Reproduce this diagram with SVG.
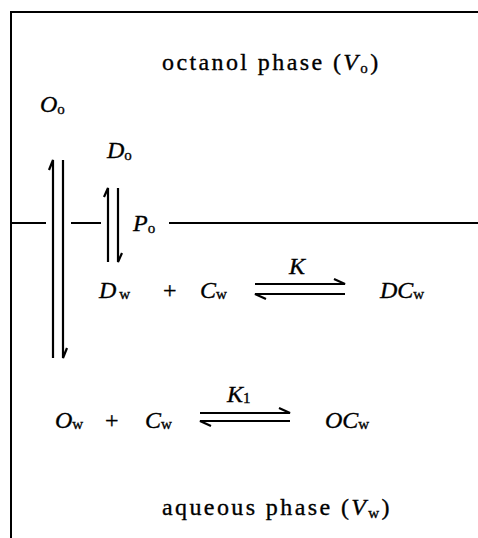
<svg xmlns="http://www.w3.org/2000/svg" width="478" height="538" viewBox="0 0 478 538">
<style>
text{font-family:"Liberation Serif","Times New Roman",serif;font-size:24px;fill:#000;stroke:#000;stroke-width:0.35}
.i{font-style:italic}
.s{font-size:15px;font-style:normal}
.lbl{letter-spacing:2.4px}
.ln{stroke:#000;stroke-width:2;fill:none;stroke-linecap:square}
.ar{stroke:#000;stroke-width:2.2;fill:none}
</style>
<rect width="478" height="538" fill="#fff"/>
<g id="frame">
<path class="ln" d="M11,12 V538 M11,12 H478"/>
</g>
<g id="interface">
<path class="ln" d="M11,223 H45 M72,223 H100 M170,223 H478"/>
</g>
<g id="octanol-label"><text x="162" y="70" class="lbl">octanol phase (<tspan class="i">V</tspan><tspan class="s" dy="3">o</tspan><tspan dy="-3">)</tspan></text></g>
<g id="aqueous-label"><text x="162" y="515" class="lbl">aqueous phase (<tspan class="i">V</tspan><tspan class="s" dy="3">w</tspan><tspan dy="-3">)</tspan></text></g>
<g id="Oo"><text x="40" y="112" class="i">O<tspan class="s" dy="2">o</tspan></text></g>
<g id="Do"><text x="107" y="158" class="i">D<tspan class="s" dy="2">o</tspan></text></g>
<g id="Po"><text x="133" y="231" class="i">P<tspan class="s" dy="2">o</tspan></text></g>
<g id="Dw"><text x="99" y="298" class="i">D<tspan class="s" dx="3" dy="1">w</tspan></text></g>
<g id="plus1"><text x="163" y="298">+</text></g>
<g id="Cw1"><text x="200" y="298" class="i">C<tspan class="s" dy="1">w</tspan></text></g>
<g id="K"><text x="289" y="274" class="i">K</text></g>
<g id="DCw"><text x="380" y="298" class="i">DC<tspan class="s" dy="1">w</tspan></text></g>
<g id="Ow"><text x="55" y="428" class="i">O<tspan class="s" dy="1">w</tspan></text></g>
<g id="plus2"><text x="105" y="428">+</text></g>
<g id="Cw2"><text x="145" y="428" class="i">C<tspan class="s" dy="1">w</tspan></text></g>
<g id="K1"><text x="227" y="402" class="i">K<tspan class="s" dy="1">1</tspan></text></g>
<g id="OCw"><text x="325" y="428" class="i">OC<tspan class="s" dy="1">w</tspan></text></g>
<g id="connectors">
<path class="ar" d="M53,358 V160 L49,170"/>
<path class="ar" d="M63,160 V358 L67,348"/>
<path class="ar" d="M108,262 V188 L104,197"/>
<path class="ar" d="M118,188 V262 L122,253"/>
<path class="ar" d="M255,284 H345 L334,279"/>
<path class="ar" d="M345,294 H255 L266,299"/>
<path class="ar" d="M200,413 H290 L279,408"/>
<path class="ar" d="M290,421 H200 L211,426"/>
</g>
</svg>
